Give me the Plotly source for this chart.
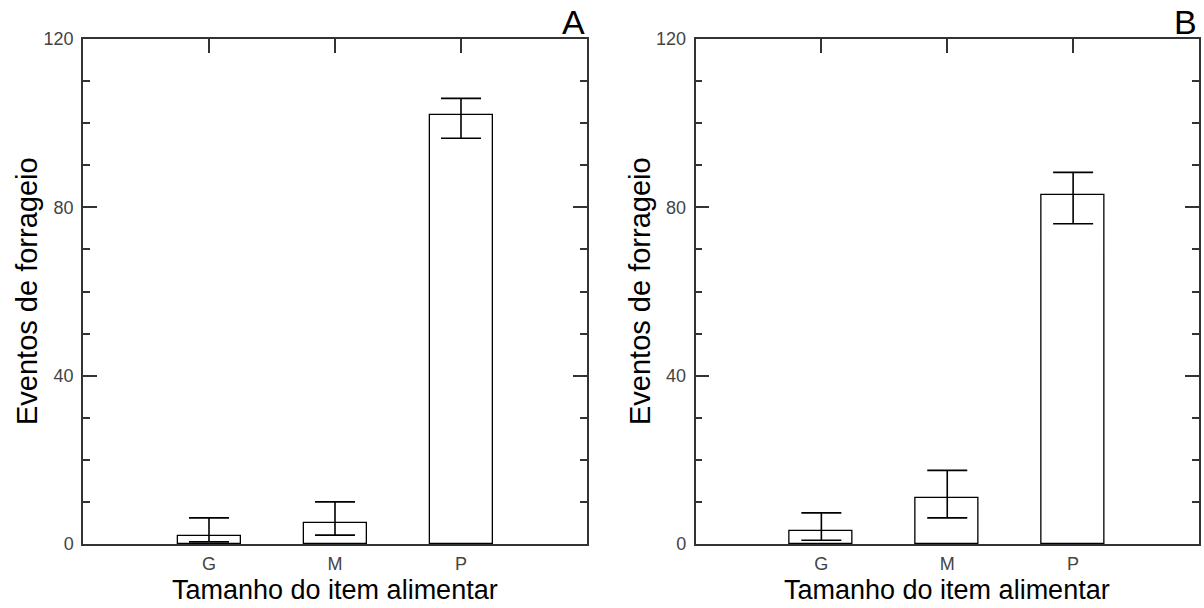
import plotly.graph_objects as go

categories = ["G", "M", "P"]
cat_pos = [1, 2, 3]

# Panel A
a_values = [2.0, 5.0, 102.0]
a_err_plus = [4.2, 5.0, 3.9]
a_err_minus = [1.5, 2.9, 5.6]

# Panel B
b_values = [3.0, 11.0, 83.0]
b_err_plus = [4.4, 6.5, 5.3]
b_err_minus = [2.1, 4.8, 6.9]

y_ticks = [0, 40, 80, 120]

FONT = "Liberation Sans, Arial, sans-serif"
AX = "#333333"

fig = go.Figure()

def add_panel(vals, ep, em, xa, ya):
    fig.add_trace(go.Bar(
        x=cat_pos, y=vals, width=0.5, xaxis=xa, yaxis=ya,
        marker=dict(color="white", line=dict(color="black", width=1.3)),
        error_y=dict(type="data", symmetric=False, array=ep, arrayminus=em,
                     color="black", thickness=1.6, width=20),
        showlegend=False, hoverinfo="skip"))

add_panel(a_values, a_err_plus, a_err_minus, "x", "y")
add_panel(b_values, b_err_plus, b_err_minus, "x2", "y2")

# invisible traces for the top-tick overlay axes
fig.add_trace(go.Scatter(x=[1], y=[0], xaxis="x3", yaxis="y", mode="markers",
                         marker=dict(opacity=0), showlegend=False, hoverinfo="skip"))
fig.add_trace(go.Scatter(x=[1], y=[0], xaxis="x4", yaxis="y2", mode="markers",
                         marker=dict(opacity=0), showlegend=False, hoverinfo="skip"))

W, H = 1204, 608
yb, yt = 1 - 544 / H, 1 - 39 / H
dA = [83 / W, 587 / W]
dB = [695.5 / W, 1199 / W]

def xaxis_cfg(dom, anchor):
    return dict(domain=dom, anchor=anchor, range=[0, 4], tickvals=cat_pos,
                ticktext=categories, ticks="", showline=True, linecolor=AX,
                linewidth=1.5, mirror=True, showgrid=False, zeroline=False,
                automargin=False, ticklabelstandoff=3,
                tickfont=dict(family=FONT, size=18, color="#444"), fixedrange=True)

def yaxis_cfg(anchor):
    return dict(domain=[yb, yt], anchor=anchor, range=[0, 120], tickvals=y_ticks,
                ticks="inside", ticklen=14, tickwidth=1.5, tickcolor=AX,
                minor=dict(dtick=10, ticks="inside", ticklen=7, tickwidth=1.5,
                           tickcolor=AX, showgrid=False),
                showline=True, linecolor=AX, linewidth=1.5, mirror="ticks",
                showgrid=False, zeroline=False, ticklabelstandoff=4,
                automargin=False,
                tickfont=dict(family=FONT, size=18, color="#444"), fixedrange=True)

def top_cfg(overlay, anchor):
    return dict(overlaying=overlay, anchor=anchor, side="top", range=[0, 4],
                tickvals=cat_pos, ticks="inside", ticklen=14, tickwidth=1.5,
                tickcolor=AX, showticklabels=False, showline=False,
                showgrid=False, zeroline=False, fixedrange=True, automargin=False)

fig.update_layout(
    width=W, height=H, margin=dict(l=0, r=0, t=0, b=0, autoexpand=False),
    plot_bgcolor="white", paper_bgcolor="white",
    xaxis=xaxis_cfg(dA, "y"), yaxis=yaxis_cfg("x"),
    xaxis2=xaxis_cfg(dB, "y2"), yaxis2=yaxis_cfg("x2"),
    xaxis3=top_cfg("x", "y"), xaxis4=top_cfg("x2", "y2"),
    bargap=0,
)

ann = []
for cx, lx, letter, lr in [((dA[0] + dA[1]) / 2, 27, "A", 587), ((dB[0] + dB[1]) / 2, 640, "B", 1199)]:
    ann.append(dict(text="Tamanho do item alimentar", x=cx, y=1 - 590 / H,
                    xref="paper", yref="paper", xanchor="center", yanchor="middle",
                    showarrow=False, font=dict(family=FONT, size=27, color="black")))
    ann.append(dict(text="Eventos de forrageio", x=lx / W, y=1 - 291 / H,
                    xref="paper", yref="paper", xanchor="center", yanchor="middle",
                    textangle=-90, showarrow=False,
                    font=dict(family=FONT, size=29, color="black")))
    ann.append(dict(text=letter, x=lr / W, y=1 - 22 / H, xref="paper", yref="paper",
                    xanchor="right", yanchor="middle", showarrow=False,
                    font=dict(family=FONT, size=34, color="black")))
fig.update_layout(annotations=ann)

fig.write_html("out.html")
